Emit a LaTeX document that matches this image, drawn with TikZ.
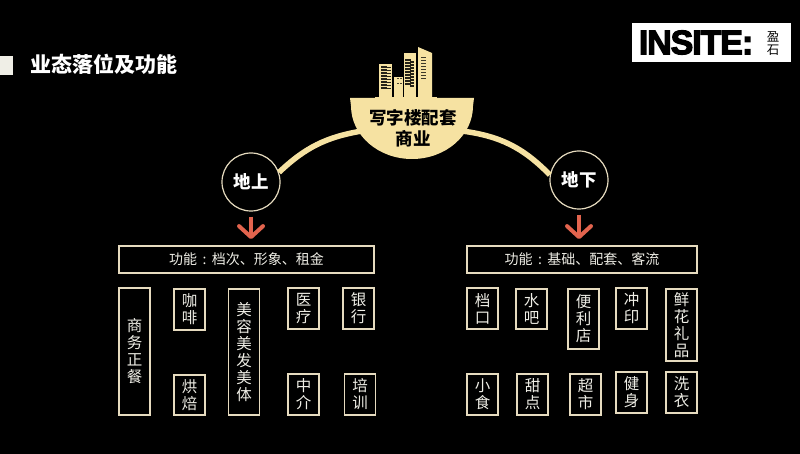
\documentclass[tikz,border=0pt]{standalone}
\usepackage{fontspec}
\setmainfont{Noto Sans CJK SC}
\newfontfamily\logofont[BoldFeatures={FakeBold=3.5},LetterSpace=-3.2]{Liberation Sans}
\usetikzlibrary{arrows.meta}
\definecolor{gold}{HTML}{F6E2A2}
\definecolor{edgecol}{HTML}{E6DBBF}
\definecolor{redcol}{HTML}{E2644E}
\definecolor{inkcol}{HTML}{EFEEE6}

\begin{document}
\begin{tikzpicture}[x=1pt,y=-1pt,semithick,
    header/.style={draw=edgecol,line width=1.8pt,minimum height=27pt,inner sep=0pt,
        text=inkcol,font=\fontsize{14}{17}\selectfont},
    item/.style={draw=edgecol,line width=1.8pt,minimum width=31pt,inner sep=0pt,align=center,
        text=inkcol,font=\fontsize{15.5}{17}\selectfont},
    place/.style={circle,draw=edgecol,line width=1.2pt,fill=black,minimum size=58pt,inner sep=0pt,
        text=white,font=\fontsize{17.5}{20}\selectfont\bfseries},
    arch/.style={draw=gold,line width=5.5pt},
    down/.style={draw=redcol,line width=4pt,-{Straight Barb[length=11pt,width=24pt,round]},
        shorten >=6pt,shorten <=5pt}]
    \fill[black] (0,0) rectangle (800,454);
    \useasboundingbox (0,0) rectangle (800,454);

    % title and logo
    \fill[inkcol] (0,56) rectangle (13,75);
    \node[text=white,font=\fontsize{21}{24}\selectfont\bfseries] (title) at (103.5,64.5) {业态落位及功能};
    \node[fill=white,minimum width=159pt,minimum height=39pt,inner sep=0pt] (logo) at (711.5,42.5) {};
    \node[font=\fontsize{34}{34}\selectfont\logofont\bfseries] (insite) at (696,42.5) {INSITE:};
    \node[align=center,font=\fontsize{12.5}{13.5}\selectfont] (yingshi) at (773,43.5) {盈\\石};

    % top and the two branches
    \node[place] (up) at (251,182) {地上};
    \node[place] (under) at (579,180) {地下};
    \coordinate (bowlL) at (362,131);
    \coordinate (bowlR) at (462,131);
    \path[arch] (bowlL) edge [bend right=17] (up.19)
                (bowlR) edge [bend left=19] (under.170);

    % bowl with the buildings
    \fill[gold] (350,98) -- (474,98) -- (473,106) arc[start angle=0,end angle=180,x radius=61,y radius=53] -- cycle;
    \fill[gold] (375,97) rectangle (437,99);
    \fill[gold] (379,64) rectangle (392,98);
    \fill[gold] (394,77) rectangle (403,98);
    \fill[gold] (403.5,53) rectangle (416,98);
    \fill[gold] (418,47) -- (432,53) -- (432,98) -- (418,98) -- cycle;
    \foreach \y in {66,69,...,87} {
        \fill[black!85!gold] (381,\y) rectangle (386.5,\y+1.6);
        \fill[black!85!gold] (386,\y+1.2) rectangle (390.5,\y+2.4);
    }
    \foreach \y in {59,62,...,83} {
        \fill[black!85!gold] (405,\y) rectangle (410.5,\y+1.6);
        \fill[black!85!gold] (410,\y+2.5) rectangle (414,\y+3.6);
    }
    \foreach \y in {57,60,...,78} {
        \fill[black!75!gold] (421,\y) rectangle (426,\y+1.4);
    }
    \foreach \y in {78,83} {
        \fill[black!70!gold] (397,\y) rectangle (398.5,\y+1.2);
        \fill[black!70!gold] (400,\y) rectangle (401.5,\y+1.2);
    }
    \node[text=black,align=center,font=\fontsize{17.5}{21}\selectfont\bfseries] (bowl) at (413,128) {写字楼配套\\商业};

    % left group
    \node[header,minimum width=255pt] (leftbar) at (246.5,259.5) {功能\hspace{5.5pt}:\hspace{5.5pt}档次、形象、租金};
    \path (up) edge [down] (up |- leftbar.north);
    \node[item,minimum height=127pt] (zhengcan) at (134.5,351.5) {商\\务\\正\\餐};
    \node[item,minimum height=41pt] (kafei) at (189.5,309.5) {咖\\啡};
    \node[item,minimum height=40pt] (hongbei) at (189.5,395) {烘\\焙};
    \node[item,minimum height=126pt] (meirong) at (244,352) {美\\容\\美\\发\\美\\体};
    \node[item,minimum height=41pt] (yiliao) at (303.5,308.5) {医\\疗};
    \node[item,minimum height=41pt] (yinhang) at (358.5,308.5) {银\\行};
    \node[item,minimum height=41pt] (zhongjie) at (303.5,394.5) {中\\介};
    \node[item,minimum height=41pt] (peixun) at (360,394.5) {培\\训};

    % right group
    \node[header,minimum width=230pt] (rightbar) at (582,259.5) {功能\hspace{5.5pt}:\hspace{5.5pt}基础、配套、客流};
    \path (under) edge [down] (under |- rightbar.north);
    \node[item,minimum height=41pt] (dangkou) at (482.5,308.5) {档\\口};
    \node[item,minimum height=40pt] (shuiba) at (531.5,309) {水\\吧};
    \node[item,minimum height=60pt] (bianli) at (583.5,319) {便\\利\\店};
    \node[item,minimum height=41pt] (chongyin) at (631.5,308.5) {冲\\印};
    \node[item,minimum height=72pt] (xianhua) at (681.5,325) {鲜\\花\\礼\\品};
    \node[item,minimum height=41pt] (xiaoshi) at (482.5,394.5) {小\\食};
    \node[item,minimum height=41pt] (tiandian) at (532.5,394.5) {甜\\点};
    \node[item,minimum height=41pt] (chaoshi) at (585.5,394.5) {超\\市};
    \node[item,minimum height=41pt] (jianshen) at (631.5,392.5) {健\\身};
    \node[item,minimum height=41pt] (xiyi) at (681.5,392.5) {洗\\衣};
\end{tikzpicture}
\end{document}
